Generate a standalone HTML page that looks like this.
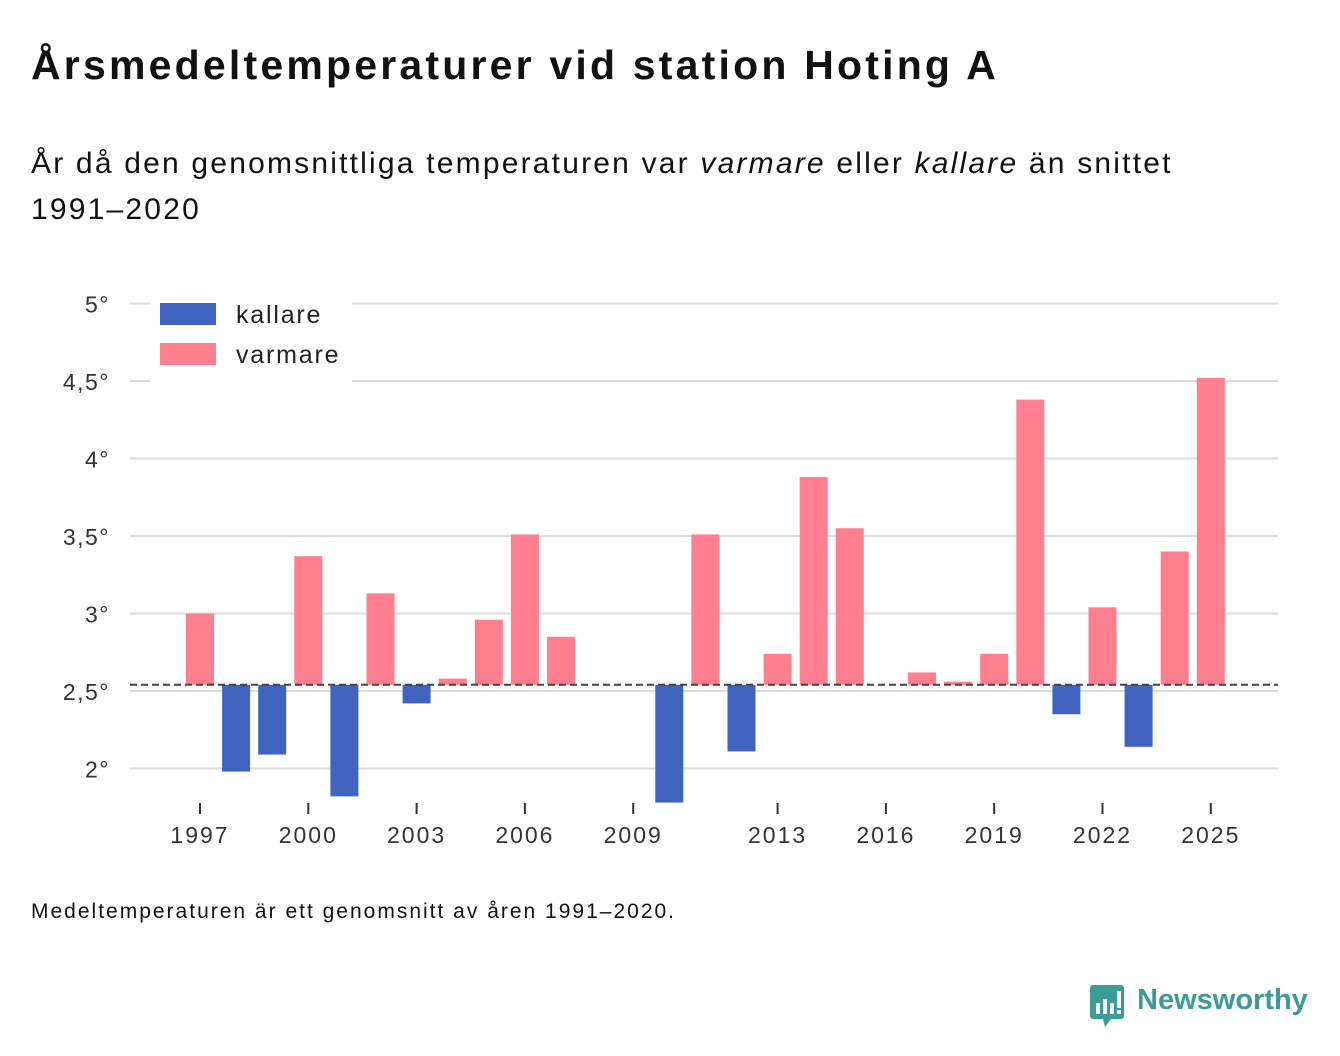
<!DOCTYPE html>
<html><head><meta charset="utf-8">
<style>
body{margin:0;width:1340px;height:1056px;background:#fff;font-family:"Liberation Sans",sans-serif;color:#111;position:relative;overflow:hidden}
.t{position:absolute;margin:0;white-space:nowrap}
</style></head><body>
<h1 class="t" style="left:31px;top:42px;font-size:41px;font-weight:bold;letter-spacing:3.2px">Årsmedeltemperaturer vid station Hoting A</h1>
<div class="t" style="left:31px;top:141px;font-size:30px;line-height:46px;width:1250px;letter-spacing:2.2px">År då den genomsnittliga temperaturen var <i>varmare</i> eller <i>kallare</i> än snittet<br>1991–2020</div>
<svg id="chart" width="1340" height="1056" style="position:absolute;left:0;top:0"></svg>
<div class="t" style="left:31px;top:900px;font-size:21px;letter-spacing:2px">Medeltemperaturen är ett genomsnitt av åren 1991–2020.</div>
<div class="t" style="left:1090px;top:983px;width:240px;height:50px">
<svg width="36" height="44" style="position:absolute;left:0;top:2px"><path d="M3 0h28a3 3 0 0 1 3 3v28a3 3 0 0 1-3 3h-10l-6 8-2-8h-10a3 3 0 0 1-3-3v-28a3 3 0 0 1 3-3z" fill="#3d9b95"/><rect x="6" y="18" width="4" height="11" fill="#fff"/><rect x="13" y="14" width="4" height="15" fill="#fff"/><rect x="20" y="18" width="4" height="11" fill="#fff"/><rect x="27" y="6" width="4" height="17" fill="#fff"/><rect x="27" y="25" width="4" height="4" fill="#fff"/></svg>
<span style="position:absolute;left:47px;top:1px;font-size:29px;font-weight:bold;color:#3d9b95">Newsworthy</span></div>
<script>
const years=[1997,1998,1999,2000,2001,2002,2003,2004,2005,2006,2007,2010,2011,2012,2013,2014,2015,2017,2018,2019,2020,2021,2022,2023,2024,2025];
const temps=[3.0,1.98,2.09,3.37,1.82,3.13,2.42,2.58,2.96,3.51,2.85,1.78,3.51,2.11,2.74,3.88,3.55,2.62,2.56,2.74,4.38,2.35,3.04,2.14,3.40,4.52];
const baseline=2.54;
const yTicks=[2,2.5,3,3.5,4,4.5,5];
const yTickLabels=["2°","2,5°","3°","3,5°","4°","4,5°","5°"];
const xTicks=[1997,2000,2003,2006,2009,2013,2016,2019,2022,2025];
const NS="http://www.w3.org/2000/svg";
const svg=document.getElementById('chart');
const y=v=>691-(v-2.5)*155;
const x=yr=>200+(yr-1997)*36.1;
function mk(t,a,p){const e=document.createElementNS(NS,t);for(const k in a)e.setAttribute(k,a[k]);(p||svg).appendChild(e);return e;}
yTicks.forEach((v,i)=>{
 const l=mk('line',{x1:130,x2:1278,y1:y(v),y2:y(v),stroke:'#dcdcdc','stroke-width':2});
 
 
 const t=mk('text',{x:110,y:y(v)+9,'text-anchor':'end','font-size':23,fill:'#333','letter-spacing':1.5,'font-family':'Liberation Sans, sans-serif'});
 t.textContent=yTickLabels[i];
 
 
});
xTicks.forEach(yr=>{
 const l=mk('line',{x1:x(yr),x2:x(yr),y1:803,y2:814,stroke:'#333','stroke-width':2});
 
 
 const t=mk('text',{x:x(yr),y:843,'text-anchor':'middle','font-size':23,fill:'#333','letter-spacing':2,'font-family':'Liberation Sans, sans-serif'});
 t.textContent=yr;
 
 
});
years.forEach((yr,i)=>{
 const v=temps[i],warm=v>=baseline;
 const top=warm?y(v):y(baseline),h=Math.abs(y(v)-y(baseline));
 const r=mk('rect',{x:x(yr)-14,y:top,width:28,height:h,fill:warm?'#ff7f8e':'#4063c0'});
 
 
});
const b=mk('line',{x1:130,x2:1278,y1:y(baseline),y2:y(baseline),stroke:'#444','stroke-width':2,'stroke-dasharray':'7,4'});


const lg=mk('g',{});


mk('rect',{x:150,y:295,width:202,height:87,fill:'#fff'},lg);
[['kallare','#4063c0',303],['varmare','#ff7f8e',343]].forEach(([n,c,yy])=>{
 const r=mk('rect',{x:160,y:yy,width:56,height:22,fill:c},lg);
 
 
 const t=mk('text',{x:236,y:yy+20,'font-size':25,fill:'#222','letter-spacing':1.8,'font-family':'Liberation Sans, sans-serif'},lg);
 t.textContent=n;
 
 
});
</script>
</body></html>
